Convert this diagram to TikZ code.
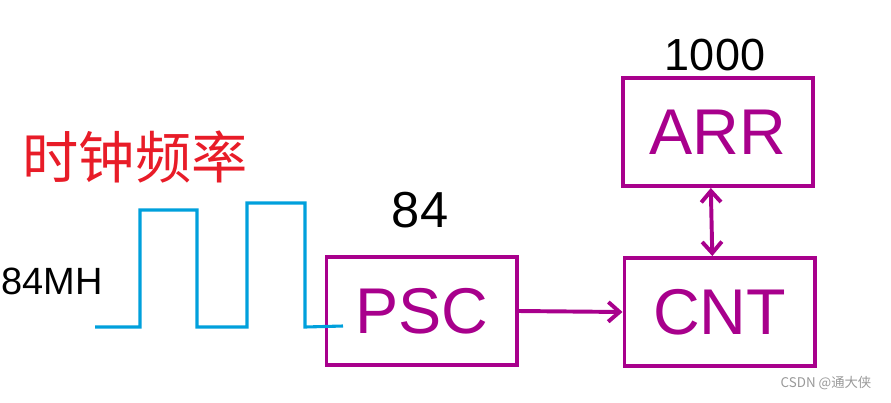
\documentclass[tikz,border=0pt]{standalone}
\usepackage{fontspec}
\setmainfont{Liberation Sans}
\newfontfamily\cjk{Noto Sans CJK SC}
\usetikzlibrary{arrows.meta}

\definecolor{regpurple}{RGB}{168,0,140}
\definecolor{clkblue}{RGB}{0,160,220}
\definecolor{notered}{RGB}{232,28,40}

\tikzset{
    regbox/.style={draw=regpurple, line width=2.8pt, minimum width=4.75cm, minimum height=2.7cm,
        text=regpurple, font=\fontsize{46}{50}\selectfont},
    regarrow/.style={draw=regpurple, line width=2.8pt, -{Straight Barb[length=8pt, width=14pt]}},
    notetext/.style={text=black},
}

\begin{document}
\begin{tikzpicture}[x=0.025cm, y=-0.025cm]
    \useasboundingbox (0, 0) rectangle (891, 402);

    % registers
    \node[regbox] (psc) at (421.5, 311) {PSC};
    \node[regbox] (cnt) at (719.5, 312) {CNT};
    \node[regbox] (arr) at (718, 132) {ARR};

    \draw[regarrow] (psc.east) -- (cnt.west);
    \draw[regarrow, {Straight Barb[length=8pt, width=14pt]}-{Straight Barb[length=8pt, width=14pt]}]
        ([xshift=-0.18cm]arr.south) -- ([xshift=-0.18cm]cnt.north);

    % clock signal
    \coordinate (clkend) at (343, 326);
    \draw[clkblue, line width=2.2pt] (95, 327) -- (140, 327) -- (140, 210) -- (197, 210)
        -- (197, 327) -- (247, 327) -- (247, 203) -- (305, 203) -- (305, 327) -- (clkend);

    % labels
    \node[text=notered, font=\cjk\fontsize{40}{44}\selectfont] (clkname) at (135, 157) {时钟频率};
    \node[notetext, font=\fontsize{27}{30}\selectfont] (clkfreq) at (52, 281) {84MH};
    \node[notetext, font=\fontsize{36}{40}\selectfont] (pscval) at (420, 210) {84};
    \node[notetext, font=\fontsize{32}{36}\selectfont] (arrval) at (715, 55) {1000};

    \node[text=gray!80, font=\cjk\fontsize{9.5}{11}\selectfont] (mark) at (826, 383) {CSDN @通大侠};
\end{tikzpicture}
\end{document}
